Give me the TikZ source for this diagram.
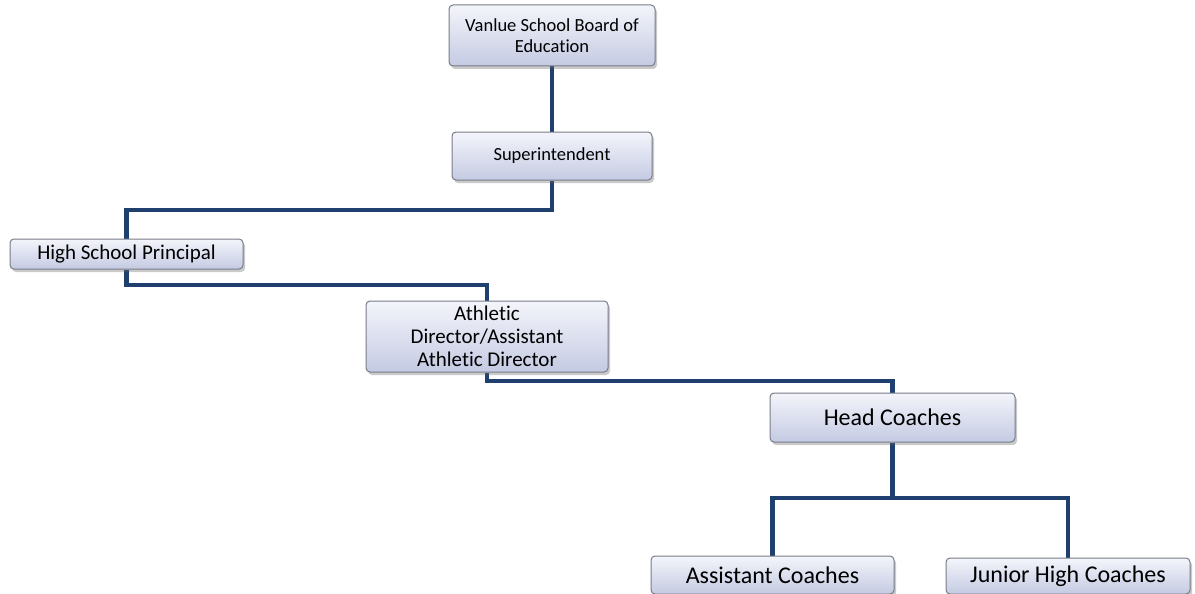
\documentclass[tikz,border=0pt]{standalone}
\usepackage{fontspec}
\setmainfont{Carlito}[Ligatures=NoCommon]
\usetikzlibrary{shadows,backgrounds}
\definecolor{linkblue}{RGB}{31,63,110}
\definecolor{boxtop}{RGB}{244,245,251}
\definecolor{boxbot}{RGB}{196,202,226}
\definecolor{boxline}{RGB}{120,124,136}

\begin{document}
\begin{tikzpicture}[x=1pt, y=-1pt,
  box/.style={draw=boxline, line width=1pt, rounded corners=4pt, top color=boxtop, bottom color=boxbot,
    drop shadow={shadow xshift=2pt, shadow yshift=-3pt, opacity=0.35, fill=black!60},
    inner sep=0pt, align=center},
  link/.style={draw=linkblue, line width=4.5pt}]
\useasboundingbox (0,0) rectangle (1195,594);
% boxes
\node(board)[box, minimum width=206pt, minimum height=61pt, font=\fontsize{18.5}{21}\selectfont] at (552,35.5) {Vanlue School Board of\\Education};
\node(super)[box, minimum width=200pt, minimum height=48pt, font=\fontsize{18.5}{21}\selectfont] at (552,156) {Superintendent};
\node(hsp)[box, minimum width=233pt, minimum height=30pt, font=\fontsize{21}{23}\selectfont] at (126.5,254) {High School Principal};
\node(ad)[box, minimum width=242pt, minimum height=71pt, font=\fontsize{21}{23}\selectfont] at (487,336.5) {Athletic\\Director/Assistant\\Athletic Director};
\node(hc)[box, minimum width=245pt, minimum height=49pt, font=\fontsize{24}{26}\selectfont] at (892.5,417.5) {Head Coaches};
\node(ac)[box, minimum width=243pt, minimum height=38pt, font=\fontsize{24}{26}\selectfont] at (772.5,575) {Assistant Coaches};
\node(jh)[box, minimum width=244pt, minimum height=36pt, font=\fontsize{24}{26}\selectfont] at (1068,576) {Junior High Coaches};
% links behind the boxes
\coordinate (b1) at (552,210);
\coordinate (b2) at (126.5,285);
\coordinate (b3) at (487,381);
\coordinate (b4) at (892.5,498);
\begin{scope}[on background layer]
\draw[link] (board) -- (super);
\draw[link] (super) -- (b1) -| (hsp);
\draw[link] (hsp) -- (b2) -| (ad);
\draw[link] (ad) -- (b3) -| (hc);
\draw[link] (hc) -- (b4) -| (ac);
\draw[link] (b4) -| (jh);
\end{scope}
\end{tikzpicture}
\end{document}
